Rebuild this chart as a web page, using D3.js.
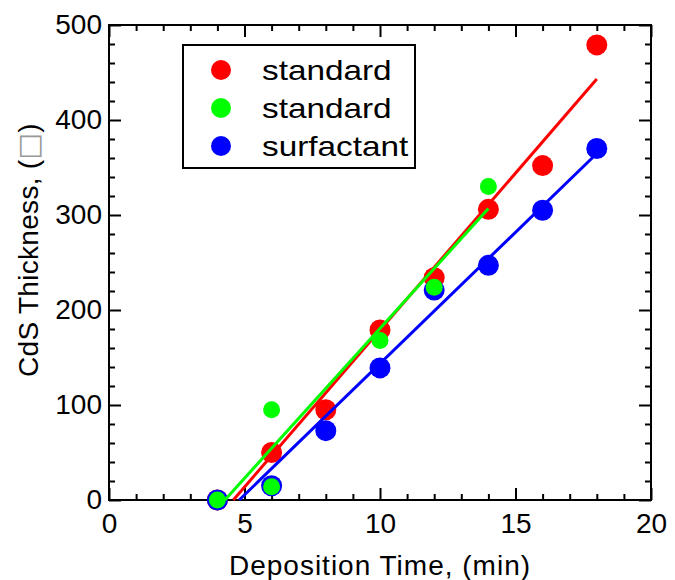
<!DOCTYPE html>
<html>
<head>
<meta charset="utf-8">
<script src="https://cdn.jsdelivr.net/npm/d3@7"></script>
<style>
  html, body { margin: 0; padding: 0; background: #fff; }
  svg { display: block; font-family: "Liberation Sans", Arial, sans-serif; }
</style>
</head>
<body>
<svg id="chart" width="675" height="580"></svg>
<script>
// ---- data ----
const timeRed = [4, 6, 8, 10, 12, 14, 16, 18];
const thickRed = [0, 50, 95, 179, 234, 306, 352, 479];
const timeGreen = [4, 6, 6, 10, 12, 14];
const thickGreen = [0, 95, 14, 168, 224, 330];
const timeBlue = [4, 6, 8, 10, 12, 14, 16, 18];
const thickBlue = [0, 15, 73, 139, 221, 247, 305, 370];
const legendLabels = ["standard", "standard", "surfactant"];
const xTickValues = [0, 5, 10, 15, 20];
const yTickValues = [0, 100, 200, 300, 400, 500];
const xTitle = "Deposition Time, (min)";
const yTitle = "CdS Thickness, (";

(function () {
// ---- layout ----
const svg = d3.select("#chart");
const pL = 109, pR = 651, pT = 25, pB = 500;
const x = d3.scaleLinear().domain([0, 20]).range([pL, pR]);
const y = d3.scaleLinear().domain([0, 500]).range([pB, pT]);
const FONT = 28;

const xMinor = d3.range(0, 21, 1).filter(v => v % 5 !== 0);
const yMinor = d3.range(0, 501, 20).filter(v => v % 100 !== 0);

function styleAxis(g) {
  g.select(".domain").remove();
  g.selectAll(".tick line").attr("stroke", "#000").attr("stroke-width", 2);
  g.selectAll(".tick text").attr("fill", "#000").style("font-size", FONT + "px")
    .style("font-family", "'Liberation Sans', Arial, sans-serif");
}

// bottom axis (labels)
svg.append("g").attr("transform", `translate(0,${pB})`)
  .call(d3.axisBottom(x).tickValues(xTickValues).tickSize(-12).tickPadding(13).tickFormat(d3.format("d")))
  .call(styleAxis);
svg.append("g").attr("transform", `translate(0,${pB})`)
  .call(d3.axisBottom(x).tickValues(xMinor).tickSize(-6).tickFormat(""))
  .call(styleAxis);
// top axis
svg.append("g").attr("transform", `translate(0,${pT})`)
  .call(d3.axisTop(x).tickValues(xTickValues).tickSize(-12).tickFormat(""))
  .call(styleAxis);
svg.append("g").attr("transform", `translate(0,${pT})`)
  .call(d3.axisTop(x).tickValues(xMinor).tickSize(-6).tickFormat(""))
  .call(styleAxis);
// left axis
svg.append("g").attr("transform", `translate(${pL},0)`)
  .call(d3.axisLeft(y).tickValues(yTickValues).tickSize(-12).tickPadding(7).tickFormat(d3.format("d")))
  .call(styleAxis);
svg.append("g").attr("transform", `translate(${pL},0)`)
  .call(d3.axisLeft(y).tickValues(yMinor).tickSize(-6).tickFormat(""))
  .call(styleAxis);
// right axis
svg.append("g").attr("transform", `translate(${pR},0)`)
  .call(d3.axisRight(y).tickValues(yTickValues).tickSize(-12).tickFormat(""))
  .call(styleAxis);
svg.append("g").attr("transform", `translate(${pR},0)`)
  .call(d3.axisRight(y).tickValues(yMinor).tickSize(-6).tickFormat(""))
  .call(styleAxis);

// frame
svg.append("rect").attr("x", pL).attr("y", pT)
  .attr("width", pR - pL).attr("height", pB - pT)
  .attr("fill", "none").attr("stroke", "#000").attr("stroke-width", 2);

// least-squares fit
function fit(xs, ys) {
  const mx = d3.mean(xs), my = d3.mean(ys);
  let sxy = 0, sxx = 0;
  xs.forEach((v, i) => { sxy += (v - mx) * (ys[i] - my); sxx += (v - mx) * (v - mx); });
  const slope = sxy / sxx, icpt = my - slope * mx;
  const x0 = -icpt / slope, x1 = d3.max(xs);
  return [[x0, 0], [x1, slope * x1 + icpt]];
}
const line = d3.line().x(d => x(d[0])).y(d => y(d[1]));

const series = [
  { xs: timeRed, ys: thickRed, color: "#ff0000", r: 10.5 },
  { xs: timeBlue, ys: thickBlue, color: "#0000ff", r: 10.5 },
  { xs: timeGreen, ys: thickGreen, color: "#00ff00", r: 8.5 }
];

series.forEach(s => {
  const pts = s.xs.map((v, i) => [v, s.ys[i]]);
  svg.append("g").selectAll("circle").data(pts).join("circle")
    .attr("cx", d => x(d[0])).attr("cy", d => y(d[1])).attr("r", s.r)
    .attr("fill", s.color);
  svg.append("path").datum(fit(s.xs, s.ys)).attr("d", line)
    .attr("fill", "none").attr("stroke", s.color).attr("stroke-width", 3);
});

// legend
const lg = svg.append("g");
lg.append("rect").attr("x", 183).attr("y", 45).attr("width", 232).attr("height", 123)
  .attr("fill", "#fff").attr("stroke", "#000").attr("stroke-width", 2);
const legendColors = ["#ff0000", "#00ff00", "#0000ff"];
legendLabels.forEach((lab, i) => {
  const cy = 70 + i * 38;
  lg.append("circle").attr("cx", 221).attr("cy", cy).attr("r", 10).attr("fill", legendColors[i]);
  lg.append("text").attr("transform", `translate(262,${cy + 10}) scale(1.19,1)`)
    .style("font-size", "28px").attr("fill", "#000").text(lab);
});

// axis titles
svg.append("text").attr("x", (pL + pR) / 2).attr("y", 575)
  .attr("text-anchor", "middle").style("font-size", "28px").style("letter-spacing", "1px")
  .attr("fill", "#000").text(xTitle);
const yt = svg.append("text").attr("transform", `translate(38,377) rotate(-90)`)
  .attr("text-anchor", "start").style("font-size", "28px").style("letter-spacing", "0.3px")
  .attr("fill", "#000");
yt.append("tspan").text(yTitle);
yt.append("tspan").attr("fill", "#999").style("font-family", "'DejaVu Sans'").text("\u25A1");
yt.append("tspan").text(")");
})();
</script>
</body>
</html>
